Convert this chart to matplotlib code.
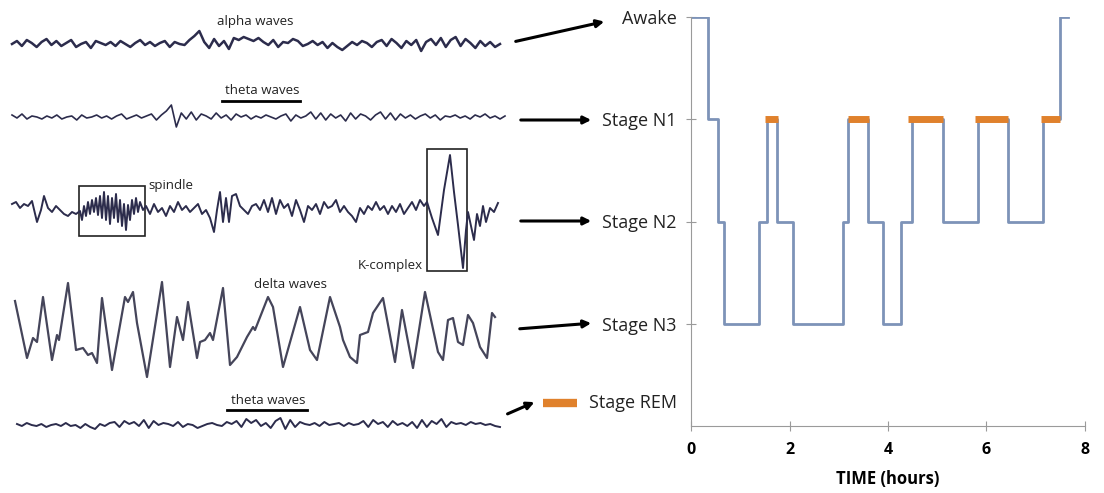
import numpy as np
import matplotlib
matplotlib.use("Agg")
import matplotlib.pyplot as plt

plt.rcParams['font.family'] = ['Open Sans', 'DejaVu Sans']

# hypnogram: stage changes (hours) and stage level (1=N3, 2=N2, 3=N1, 4=Awake)
hyp_times = [0, 0.35, 0.55, 0.68, 1.38, 1.55, 1.74, 2.08, 3.09, 3.19, 3.60,
             3.90, 4.27, 4.48, 5.12, 5.83, 6.44, 7.15, 7.49, 7.65]
hyp_stages = [4, 3, 2, 1, 2, 3, 2, 1, 2, 3, 2, 1, 2, 3, 2, 3, 2, 3, 4, 4]
rem_periods = [(1.50, 1.77), (3.18, 3.61), (4.40, 5.12), (5.76, 6.44), (7.10, 7.49)]
stage_levels = [1, 2, 3, 4]
stage_names = ['Stage N3', 'Stage N2', 'Stage N1', 'Awake']
time_ticks = [0, 2, 4, 6, 8]

# EEG traces (amplitude, up positive)
alpha = [0, 3, -2, 4, 1, -3, 2, 5, -1, 3,
         -2, 1, 4, -3, 0, 2, -4, 3, 1, -1,
         2, -2, 3, 0, -3, 1, 4, -1, 2, -2,
         1, 3, -3, 2, 0, -1, 4, 8, 13, 2,
         -4, 5, -2, 3, -5, 6, 4, 7, 5, 3,
         6, 2, -1, 4, -3, 2, 1, 5, 3, -2,
         0, 3, -1, 2, -4, 1, -3, -6, -2, 2,
         -1, 3, 1, -3, 2, 4, -2, 5, 1, -4,
         3, -1, 4, -7, 2, 5, -1, 6, -3, 4,
         7, -2, 5, 1, -4, 3, -2, 2, -3, 0]
theta1 = [2, -1, 3, -2, 1, 0, -2, 1, -1, 2,
          -2, 0, 1, -3, 2, -1, 0, 2, -1, 1,
          -2, 1, 3, -2, 0, 2, -1, 1, 3, -3,
          2, 6, 12, -10, 4, -2, 5, -3, 3, 1,
          -2, 4, -1, 2, -3, 3, 0, 2, -2, 1,
          -1, 2, 0, -2, 1, 3, -4, 2, -1, 1,
          5, -2, 4, -3, 3, -1, 2, -4, 4, -2,
          3, 1, -3, 2, 5, -2, 4, -3, 3, -1,
          2, -2, 1, 3, -1, 2, -3, 1, 0, 2,
          -1, 1, -2, 2, 0, 3, -1, 1, -2, 1]
n2_x = [12, 16, 20, 24, 28, 32, 37, 41, 44, 48, 52, 56, 60, 64, 68, 72, 76, 80, 82, 84,
        86, 88, 90, 92, 94, 96, 98, 100, 102, 104, 106, 108, 110, 112, 114, 116, 118, 120, 122, 124,
        126, 128, 130, 132, 134, 136, 138, 140, 143, 146, 150, 154, 158, 162, 166, 170, 174, 178, 182, 186,
        190, 194, 198, 202, 206, 210, 214, 217, 220, 223, 226, 229, 232, 236, 240, 244, 248, 252, 256, 260,
        264, 268, 272, 276, 280, 284, 288, 292, 296, 300, 304, 308, 312, 316, 320, 324, 328, 332, 336, 340,
        344, 348, 352, 356, 360, 364, 368, 372, 376, 380, 384, 388, 392, 396, 400, 404, 408, 412, 416, 420,
        424, 427, 432, 438, 444, 450, 454, 458, 463, 466, 468, 471, 474, 477, 480, 483, 486, 490, 494, 498]
n2_amp = [3, 5, -1, 3, 1, 6, -15, -3, 11, -1, -5, 1, -3, -7, -9, -5, -7, -4, -13, 1,
          -9, 5, -7, 7, -5, 9, -8, 11, -11, 15, -13, 11, -17, 9, -11, 13, -15, 7, -19, 3,
          -23, 2, -13, 7, -7, 9, -5, 5, -3, 1, -7, 3, -5, -1, -9, 1, -5, 5, -3, 1,
          -5, -1, 3, -7, -3, -11, -25, -3, 15, -15, 9, -15, 11, 13, 1, -3, -7, 1, 3, -3,
          7, -5, 9, -7, 7, -1, 3, -9, 7, -3, -15, 1, -3, 3, -7, 5, -1, 1, 7, -5,
          1, -5, -9, -15, -1, -7, 1, -3, 5, -3, 1, -7, 1, -5, 3, -7, -1, 5, -3, 7,
          1, 5, -11, -28, 17, 52, 15, -18, -61, -23, -5, -19, -33, -7, -19, 1, -15, -1, -5, 4]
delta_x = [15, 27, 33, 37, 43, 52, 57, 59, 68, 76, 83, 88, 92, 97, 102, 112, 125, 128, 133, 137,
           147, 162, 170, 177, 183, 188, 197, 200, 205, 210, 213, 223, 230, 237, 247, 253, 255, 268, 273, 283,
           300, 310, 317, 330, 340, 343, 350, 357, 360, 368, 373, 383, 395, 402, 413, 425, 438, 443, 448, 453,
           458, 463, 468, 473, 480, 487, 492, 495]
delta_amp = [29, -28, -8, -12, 33, -30, -5, -10, 47, -20, -18, -25, -23, -33, 32, -40, 33, 28, 38, 7,
             -47, 48, -37, 13, -10, 28, -28, -12, -10, -3, -10, 42, -35, -27, -7, 3, 0, 33, 23, -37,
             23, -20, -30, 33, 3, -10, -27, -33, -5, -2, 17, 32, -32, 20, -38, 38, -22, -30, 10, 12,
             -12, -15, 15, 7, -17, -28, 17, 13]
theta2 = [1, -1, 2, 0, -1, 1, -2, 0, 1, -1,
          2, -1, 0, -3, 1, -2, -4, 1, -1, 2,
          3, -2, 4, 1, 3, -1, 5, -3, 4, 0,
          2, 1, -1, 3, -2, 1, 0, -3, -1, 1,
          2, 0, -1, 3, 1, 4, -2, 6, 2, 5,
          -1, 2, -3, 4, 7, -4, 5, -2, 3, 1,
          0, 2, -1, 3, 0, 1, 2, -1, 2, 0,
          1, 4, -2, 5, 1, 3, -2, 4, 0, 2,
          -1, 3, -3, 5, -2, 4, 1, 6, -2, 3,
          1, 2, 0, 3, 1, 2, 0, 1, -1, -2]

fig = plt.figure(figsize=(11.04, 4.93), dpi=100)

# left part: EEG examples, drawn in a pixel-like canvas
ax0 = fig.add_axes([0, 0, 1, 1])
ax0.set_xlim(0, 1104)
ax0.set_ylim(493, 0)
ax0.axis('off')

wave_col = '#2c2c4c'
ax0.plot(np.linspace(12, 500, len(alpha)), 44 - np.array(alpha), color=wave_col, lw=1.8)
ax0.plot(np.linspace(12, 505, len(theta1)), 117 - np.array(theta1), color=wave_col, lw=1.2)
ax0.plot(n2_x, 207 - np.array(n2_amp), color=wave_col, lw=1.4)
ax0.plot(delta_x, 330 - np.array(delta_amp), color='#45455a', lw=1.6)
ax0.plot(np.linspace(17, 500, len(theta2)), 425 - np.array(theta2), color=wave_col, lw=1.4)

ax0.add_patch(plt.Rectangle((79, 186), 66, 50, fill=False, ec='#222222', lw=1.2))
ax0.add_patch(plt.Rectangle((427, 149), 40, 122, fill=False, ec='#222222', lw=1.2))

lbl = dict(fontsize=9.5, color='#222222', va='center')
ax0.text(255, 22, 'alpha waves', ha='center', **lbl)
ax0.text(262, 91, 'theta waves', ha='center', **lbl)
ax0.plot([222, 300], [101, 101], color='black', lw=2)
ax0.text(148, 186, 'spindle', ha='left', **lbl)
ax0.text(423, 265, 'K-complex', ha='right', **lbl)
ax0.text(291, 285, 'delta waves', ha='center', **lbl)
ax0.text(268, 400, 'theta waves', ha='center', **lbl)
ax0.plot([227, 307], [410, 410], color='black', lw=2)

arrows = [((513, 42), (607, 21)), ((518, 120), (594, 120)), ((518, 221), (594, 221)),
          ((517, 329), (594, 323)), ((505, 415), (537, 401))]
for start, end in arrows:
    ax0.annotate('', xy=end, xytext=start,
                 arrowprops=dict(arrowstyle='-|>', color='black', lw=2.2, mutation_scale=11))

# right part: hypnogram
ax = fig.add_axes([691 / 1104, 67 / 493, 394 / 1104, 409 / 493])
ax.set_xlim(0, 8)
ax.set_ylim(0, 4)
ax.patch.set_alpha(0)
ax.step(hyp_times, hyp_stages, where='post', color='#7d93b8', lw=2)
for t0, t1 in rem_periods:
    ax.plot([t0, t1], [3, 3], color='#e0812c', lw=5, solid_capstyle='butt')

for side in ['top', 'right']:
    ax.spines[side].set_visible(False)
for side in ['left', 'bottom']:
    ax.spines[side].set_color('#9a9a9a')
ax.set_yticks(stage_levels, stage_names)
ax.set_xticks(time_ticks, [str(t) for t in time_ticks])
ax.tick_params(axis='both', direction='inout', length=7, color='#9a9a9a')
ax.tick_params(axis='y', labelsize=13, pad=7, labelcolor='#222222')
ax.tick_params(axis='x', labelsize=11.5, pad=8)
for t in ax.get_xticklabels():
    t.set_fontweight('bold')
ax.set_xlabel('TIME (hours)', fontsize=12, fontweight='bold', labelpad=9)

ax.text(-0.035, 0.225, 'Stage REM', transform=ax.get_yaxis_transform(),
        ha='right', va='center', fontsize=13, color='#222222')
ax0.plot([543, 577], [403, 403], color='#e0812c', lw=6, solid_capstyle='butt')

fig.savefig('out.png', dpi=100)
